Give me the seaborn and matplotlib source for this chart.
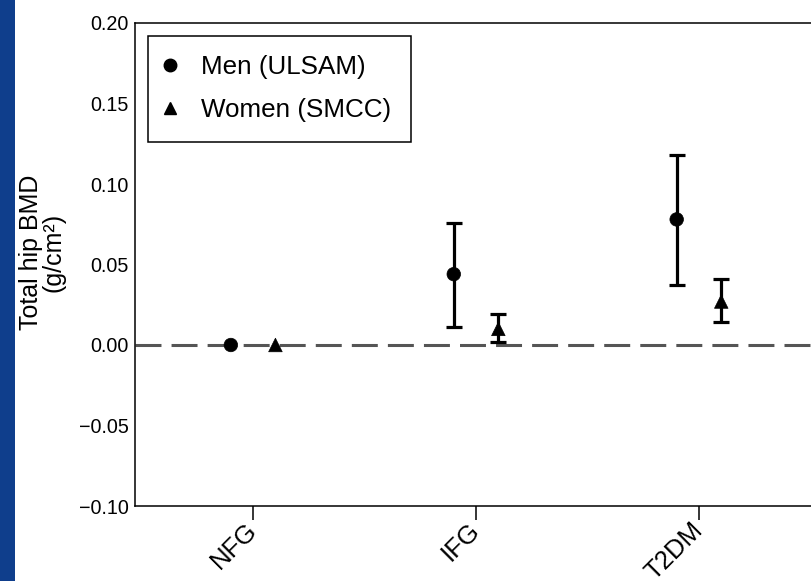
import numpy as np
import pandas as pd
import matplotlib
matplotlib.use("Agg")
import matplotlib.pyplot as plt
from matplotlib.lines import Line2D
from matplotlib.patches import Rectangle
import seaborn as sns

# Glucose-status groups and the BMD difference vs. NFG (estimate with 95% CI)
categories = ["NFG", "IFG", "T2DM"]
groups = ["Men (ULSAM)", "Women (SMCC)"]
men_est = [0.000, 0.044, 0.078]
men_low = [0.000, 0.011, 0.037]
men_high = [0.000, 0.076, 0.118]
women_est = [0.000, 0.010, 0.027]
women_low = [0.000, 0.002, 0.014]
women_high = [0.000, 0.019, 0.041]
ytick_values = [-0.10, -0.05, 0.00, 0.05, 0.10, 0.15, 0.20]
ytick_labels = ["\u22120.10", "\u22120.05", "0.00", "0.05", "0.10", "0.15", "0.20"]

sns.set_theme(style="ticks")
plt.rcParams["font.family"] = ["Liberation Sans", "DejaVu Sans"]

rows = []
for g, est, lo, hi in [(groups[0], men_est, men_low, men_high),
                       (groups[1], women_est, women_low, women_high)]:
    for i, c in enumerate(categories):
        rows.append(dict(group=g, category=c, idx=i, est=est[i], low=lo[i], high=hi[i]))
df = pd.DataFrame(rows)
dodge = {groups[0]: -0.1, groups[1]: 0.1}
df["xpos"] = df["idx"] + df["group"].map(dodge)

W, H = 812, 581
fig = plt.figure(figsize=(W / 100, H / 100), dpi=100)
fig.patch.set_facecolor("white")

# dark blue slide edge on the left
fig.patches.append(Rectangle((0, 0), 15 / W, 1, transform=fig.transFigure,
                             facecolor="#0f3e8c", edgecolor="none", zorder=0))

ax = fig.add_axes([135 / W, (H - 506) / H, 681 / W, 483 / H])
ax.set_facecolor("white")

# reference line at zero
ax.axhline(0, color="#555555", lw=2.2, ls=(0, (8.5, 3.3)), zorder=1)

# confidence intervals
ci = df[df["high"] > df["low"]]
ax.errorbar(ci["xpos"], ci["est"],
            yerr=[ci["est"] - ci["low"], ci["high"] - ci["est"]],
            fmt="none", ecolor="black", elinewidth=2.3, capsize=6, capthick=2.3,
            zorder=2)

# point estimates
sns.scatterplot(data=df, x="xpos", y="est", style="group",
                markers={groups[0]: "o", groups[1]: "^"},
                color="black", edgecolor="black", linewidth=0.5, s=95,
                legend=False, zorder=3, ax=ax)

ax.set_xlim(-0.53, 2.525)
ax.set_ylim(-0.10, 0.20)
ax.set_xticks(range(len(categories)))
ax.set_xticklabels(categories, rotation=45, ha="right", va="center",
                   rotation_mode="anchor", fontsize=18.5)
ax.set_yticks(ytick_values)
ax.set_yticklabels(ytick_labels, fontsize=14.2)
ax.set_xlabel("")
ax.set_ylabel("")
ax.tick_params(axis="y", length=0, pad=4.5, colors="black")
ax.tick_params(axis="x", length=10, width=1.1, direction="out", pad=5, colors="black")
for sp in ax.spines.values():
    sp.set_color("black")
    sp.set_linewidth(1.1)
    sp.set_visible(True)

fig.text(42 / W, (H - 252) / H, "Total hip BMD\n(g/cm\u00b2)", rotation=90,
         ha="center", va="center", fontsize=18, linespacing=0.9, color="black")

handles = [Line2D([], [], ls="none", marker="o", color="black", markersize=9),
           Line2D([], [], ls="none", marker="^", color="black", markersize=9)]
leg = ax.legend(handles, groups, loc="upper left", frameon=True, fancybox=False,
                edgecolor="black", framealpha=1, fontsize=18.7, borderpad=0.75,
                handlelength=0.2, handletextpad=1.1, labelspacing=0.72,
                borderaxespad=0.5)
leg.get_frame().set_linewidth(1.1)
for t in leg.get_texts():
    t.set_color("black")

fig.savefig("out.png", dpi=100, facecolor="white")
